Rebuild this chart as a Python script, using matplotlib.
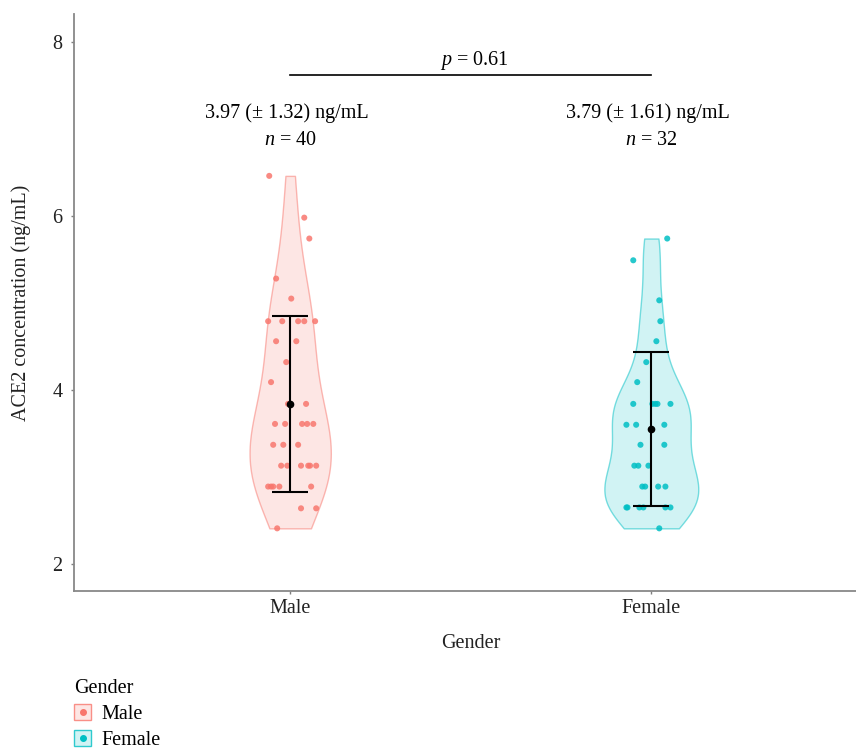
import numpy as np
import matplotlib
matplotlib.use("Agg")
import matplotlib.pyplot as plt
from matplotlib.patches import Patch
from matplotlib.lines import Line2D

plt.rcParams['font.family'] = ['Liberation Serif', 'DejaVu Serif']
plt.rcParams['mathtext.fontset'] = 'custom'
plt.rcParams['mathtext.rm'] = 'Liberation Serif'
plt.rcParams['mathtext.it'] = 'Liberation Serif:italic'

# data
groups = ["Male", "Female"]
colors = ["#F8766D", "#00BFC4"]

male_vals = [6.46, 5.98, 5.74, 5.28, 5.05,
             4.79, 4.79, 4.79, 4.79, 4.79,
             4.56, 4.56, 4.32, 4.09, 3.84, 3.84,
             3.61, 3.61, 3.61, 3.61, 3.61,
             3.37, 3.37, 3.37,
             3.13, 3.13, 3.13, 3.13, 3.13, 3.13,
             2.89, 2.89, 2.89, 2.89, 2.89,
             2.64, 2.64, 2.41]
male_jitter = [-0.058, 0.039, 0.053, -0.039, 0.003,
               -0.061, -0.022, 0.022, 0.039, 0.069,
               -0.039, 0.017, -0.011, -0.053, -0.006, 0.044,
               -0.042, -0.014, 0.033, 0.047, 0.064,
               -0.047, -0.019, 0.022,
               -0.025, -0.008, 0.030, 0.050, 0.055, 0.072,
               -0.061, -0.053, -0.047, -0.030, 0.058,
               0.030, 0.072, -0.036]

female_vals = [5.74, 5.49, 5.03, 4.79, 4.56, 4.32, 4.09,
               3.84, 3.84, 3.84, 3.84, 3.84,
               3.60, 3.60, 3.60,
               3.37, 3.37,
               3.13, 3.13, 3.13,
               2.89, 2.89, 2.89, 2.89,
               2.65, 2.65, 2.65, 2.65, 2.65, 2.65,
               2.41]
female_jitter = [0.044, -0.050, 0.022, 0.025, 0.014, -0.014, -0.039,
                 -0.050, 0.003, 0.011, 0.017, 0.053,
                 -0.069, -0.042, 0.036,
                 -0.030, 0.036,
                 -0.047, -0.036, -0.008,
                 -0.025, -0.017, 0.019, 0.039,
                 -0.069, -0.066, -0.033, -0.022, 0.039, 0.053,
                 0.022]

means = [3.84, 3.55]
err_lo = [2.83, 2.67]
err_hi = [4.85, 4.44]

mean_labels = ["3.97 (\u00b1 1.32) ng/mL", "3.79 (\u00b1 1.61) ng/mL"]
n_labels = [r"$\mathit{n}$ = 40", r"$\mathit{n}$ = 32"]
p_label = r"$\mathit{p}$ = 0.61"


def nrd0(adjust):
    def f(kde):
        x = kde.dataset.ravel()
        sd = np.std(x, ddof=1)
        iqr = np.subtract(*np.percentile(x, [75, 25]))
        bw = 0.9 * min(sd, iqr / 1.34) * len(x) ** -0.2
        return adjust * bw / sd
    return f


fig = plt.figure(figsize=(8.56, 7.51), dpi=100)
ax = fig.add_axes([73.5 / 856, 1 - 591 / 751, (868 - 73.5) / 856, (591 - 14) / 751])

data = [male_vals, female_vals]
jit = [male_jitter, female_jitter]
pos = [1, 2]
widths = [0.225, 0.26]
adjusts = [1.3, 1.0]

for i in range(2):
    parts = ax.violinplot([data[i]], positions=[pos[i]], widths=widths[i],
                          showextrema=False, bw_method=nrd0(adjusts[i]))
    for b in parts['bodies']:
        b.set_alpha(None)
        b.set_facecolor(matplotlib.colors.to_rgba(colors[i], 0.18))
        b.set_edgecolor(matplotlib.colors.to_rgba(colors[i], 0.5))
        b.set_linewidth(1.0)
    ax.scatter(pos[i] + np.array(jit[i]), data[i], s=19, color=colors[i],
               alpha=0.85, edgecolors='none', zorder=3)
    ax.errorbar(pos[i], means[i],
                yerr=[[means[i] - err_lo[i]], [err_hi[i] - means[i]]],
                fmt='o', color='black', ms=4.5, capsize=13, elinewidth=1.5,
                capthick=1.5, zorder=4)

# annotations
for i in range(2):
    ax.text(pos[i] - 0.01, 7.18, mean_labels[i], ha='center', va='center', fontsize=14.5)
    ax.text(pos[i], 6.87, n_labels[i], ha='center', va='center', fontsize=14.5)
ax.plot([1, 2], [7.62, 7.62], color='black', lw=1.2)
ax.text(1.51, 7.79, p_label, ha='center', va='center', fontsize=14.5)

ax.set_xlim(0.4, 2.6)
ax.set_ylim(1.69, 8.32)
ax.set_xticks(pos)
ax.set_xticklabels(groups)
ax.set_yticks([2, 4, 6, 8])
ax.tick_params(labelsize=14.5, colors='#7f7f7f', length=2.5, width=1, labelcolor='#222222')
ax.tick_params(axis='y', pad=5.5)
ax.set_xlabel("Gender", fontsize=14.5, color='#222222', labelpad=11)
ax.set_ylabel("ACE2 concentration (ng/mL)", fontsize=14.5, color='#222222', labelpad=15)
for s in ['top', 'right']:
    ax.spines[s].set_visible(False)
for s in ['left', 'bottom']:
    ax.spines[s].set_color('#888888')
    ax.spines[s].set_linewidth(1.3)

handles = []
for i in range(2):
    box = Patch(facecolor=matplotlib.colors.to_rgba(colors[i], 0.18),
                edgecolor=matplotlib.colors.to_rgba(colors[i], 0.8))
    dot = Line2D([], [], marker='o', ls='none', color=colors[i], ms=4)
    handles.append((box, dot))
fig.legend(handles, groups, title="Gender", loc='upper left',
           bbox_to_anchor=(66 / 856, 1 - 671 / 751), frameon=False,
           fontsize=14.5, title_fontsize=14.5, alignment='left',
           handlelength=0.85, handleheight=0.85, handletextpad=0.5,
           labelspacing=0.3, borderaxespad=0)

fig.savefig("out.png", dpi=100)
